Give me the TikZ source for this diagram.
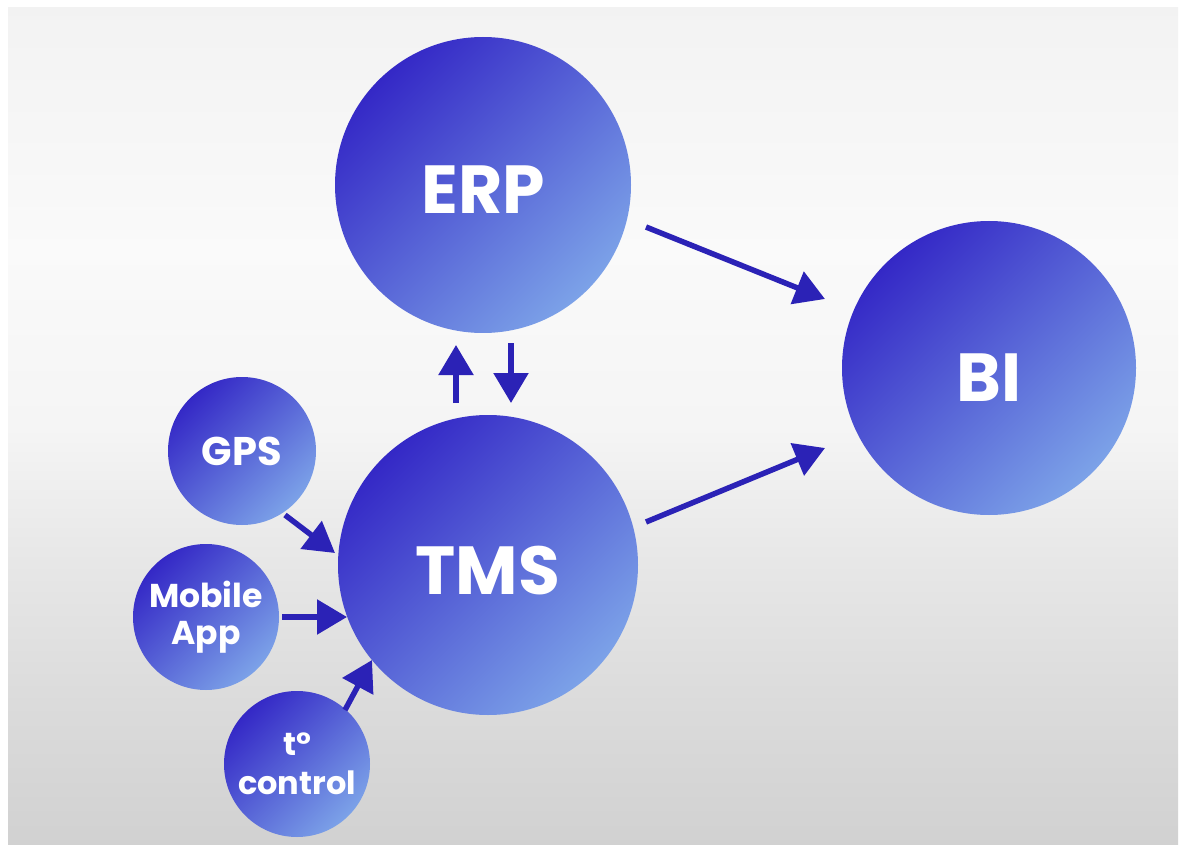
\documentclass[tikz,border=0pt]{standalone}
\usepackage{fontspec}
\setmainfont{Poppins}
\usetikzlibrary{arrows.meta}

\definecolor{arrowblue}{HTML}{2B22B6}
\definecolor{discdark}{HTML}{3428C6}
\definecolor{discmid}{HTML}{4E5ED4}
\definecolor{disclight}{HTML}{7CA2E8}

% soft grey backdrop, lighter near the top, darker towards the bottom
\pgfdeclareverticalshading{backdrop}{100bp}{%
  color(0bp)=(black!18);
  color(25bp)=(black!18);
  color(33.7bp)=(black!14);
  color(42.6bp)=(black!9);
  color(49.8bp)=(black!4);
  color(60.5bp)=(black!2);
  color(75bp)=(black!5);
  color(100bp)=(black!5)}

\begin{document}
\begin{tikzpicture}[x=1pt, y=-1pt,
  disc/.style={circle, inner sep=0pt, text=white, align=center,
    top color=discdark, middle color=discmid, bottom color=disclight,
    shading angle=45},
  bigdisc/.style={disc, font=\fontsize{68}{74}\selectfont\bfseries,
    text depth=0pt},
  smalldisc/.style={disc, font=\fontsize{33}{37}\selectfont\bfseries},
  link/.style={draw=arrowblue, line width=5.5pt,
    -{Triangle[length=30pt, width=34pt]}}]

  % canvas and backdrop
  \fill[white] (0,0) rectangle (1187,845);
  \shade[shading=backdrop] (8,8) rectangle (1178,845);
  \useasboundingbox (0,0) rectangle (1187,845);

  % systems (text height set so the labels sit a little below centre)
  \node[bigdisc, minimum size=296pt, text height=58pt] (erp) at (483,185) {ERP};
  \node[bigdisc, minimum size=294pt, text height=67pt] (bi)  at (989,368) {BI};
  \node[bigdisc, minimum size=300pt, text height=58pt] (tms) at (488,565) {TMS};

  % data sources
  \node[smalldisc, minimum size=148pt, font=\fontsize{40}{44}\selectfont\bfseries] (gps) at (242,451) {GPS};
  \node[smalldisc, minimum size=146pt] (app) at (206,617) {Mobile\\App};
  \node[smalldisc, minimum size=146pt, font=\fontsize{32}{39}\selectfont\bfseries] (temp) at (297,764) {t°\\control};

  % arrow end points beside the discs
  \coordinate (erp-out) at (646,227);
  \coordinate (bi-in1)  at (825,299);
  \coordinate (tms-out) at (646,522);
  \coordinate (bi-in2)  at (825,448);
  \coordinate (tms-up)  at (456,403);
  \coordinate (erp-in)  at (456,345);
  \coordinate (erp-dn)  at (511,343);
  \coordinate (tms-in)  at (511,403);
  \coordinate (gps-out) at (285,515);
  \coordinate (tms-in1) at (335,553);
  \coordinate (app-out) at (282,617);
  \coordinate (tms-in2) at (347,617);
  \coordinate (temp-out) at (345,710);
  \coordinate (tms-in3) at (372,660);

  % data flows
  \draw[link] (erp-out) -- (bi-in1);
  \draw[link] (tms-out) -- (bi-in2);
  \draw[link] (tms-up) -- (erp-in);
  \draw[link] (erp-dn) -- (tms-in);
  \draw[link] (gps-out) -- (tms-in1);
  \draw[link] (app-out) -- (tms-in2);
  \draw[link] (temp-out) -- (tms-in3);
\end{tikzpicture}
\end{document}
